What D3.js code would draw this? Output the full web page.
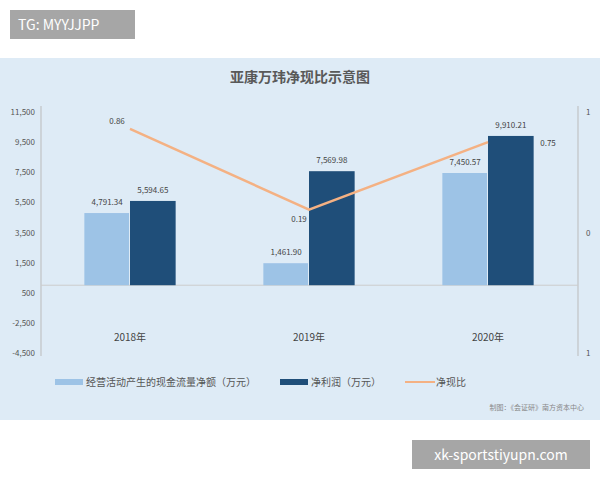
<!DOCTYPE html>
<html><head><meta charset="utf-8">
<script src="https://cdn.jsdelivr.net/npm/d3@7"></script>
<style>body{margin:0;background:#fff;font-family:"Noto Sans CJK SC","Noto Sans",sans-serif}</style>
</head><body>
<svg id="chart" width="600" height="480"></svg>
<script>
const years = ["2018年", "2019年", "2020年"];
const cashFlow = [4791.34, 1461.90, 7450.57];
const netProfit = [5594.65, 7569.98, 9910.21];
const ratio = [0.86, 0.19, 0.75];
const leftTicks = [11500, 9500, 7500, 5500, 3500, 1500, -500, -2500, -4500];
const leftLabels = ["11,500", "9,500", "7,500", "5,500", "3,500", "1,500", "500", "-2,500", "-4,500"];
const rightTicks = [1, 0, -1];
const rightLabels = ["1", "0", "1"];
const fmt = d3.format(",.2f");

const svg = d3.select("#chart");
svg.append("rect").attr("x", 0).attr("y", 58).attr("width", 600).attr("height", 362).attr("fill", "#deebf6");

svg.append("text").attr("x", 300).attr("y", 82).attr("text-anchor", "middle")
  .attr("font-size", 14).attr("font-weight", "bold").attr("fill", "#595959").text("亚康万玮净现比示意图");

const y = d3.scaleLinear([-4500, 11500], [353, 112]);
const y2 = d3.scaleLinear([-1, 1], [353, 112]);
const x = d3.scaleBand(years, [40.5, 577.5]).paddingInner(0.49).paddingOuter(0.245);
const xs = d3.scaleBand(["cf", "np"], [0, x.bandwidth()]);

svg.append("line").attr("x1", 41).attr("x2", 41).attr("y1", 106).attr("y2", 356).attr("stroke", "#bbb");
svg.append("line").attr("x1", 578).attr("x2", 578).attr("y1", 106).attr("y2", 356).attr("stroke", "#bbb");
svg.append("line").attr("x1", 41).attr("x2", 578).attr("y1", y(0)).attr("y2", y(0)).attr("stroke", "#ccc");

svg.selectAll("text.lt").data(leftTicks).join("text").attr("class", "lt")
  .attr("x", 35).attr("y", d => y(d) + 3).attr("text-anchor", "end")
  .attr("font-size", 8).attr("fill", "#555").text((d, i) => leftLabels[i]);
svg.selectAll("text.rt").data(rightTicks).join("text").attr("class", "rt")
  .attr("x", 586).attr("y", d => y2(d) + 3)
  .attr("font-size", 8).attr("fill", "#555").text((d, i) => rightLabels[i]);

const g = svg.selectAll("g.yr").data(years).join("g").attr("class", "yr")
  .attr("transform", d => `translate(${x(d)},0)`);
g.append("rect").attr("x", xs("cf")).attr("width", xs.bandwidth() - 1)
  .attr("y", (d, i) => y(cashFlow[i])).attr("height", (d, i) => y(0) - y(cashFlow[i])).attr("fill", "#9dc3e6");
g.append("rect").attr("x", xs("np")).attr("width", xs.bandwidth())
  .attr("y", (d, i) => y(netProfit[i])).attr("height", (d, i) => y(0) - y(netProfit[i])).attr("fill", "#1f4e79");
g.append("text").attr("x", xs("cf") + xs.bandwidth() / 2).attr("y", (d, i) => y(cashFlow[i]) - 8)
  .attr("text-anchor", "middle").attr("font-size", 8).attr("fill", "#444").text((d, i) => fmt(cashFlow[i]));
g.append("text").attr("x", xs("np") + xs.bandwidth() / 2).attr("y", (d, i) => y(netProfit[i]) - 8)
  .attr("text-anchor", "middle").attr("font-size", 8).attr("fill", "#444").text((d, i) => fmt(netProfit[i]));
g.append("text").attr("x", x.bandwidth() / 2).attr("y", 341).attr("text-anchor", "middle")
  .attr("font-size", 10).attr("fill", "#444").text(d => d);

const cx = d => x(d) + x.bandwidth() / 2;
svg.append("path").datum(ratio)
  .attr("d", d3.line().x((d, i) => cx(years[i])).y(d => y2(d)))
  .attr("fill", "none").attr("stroke", "#f4b183").attr("stroke-width", 2.5);
const rOff = [[-13, -5], [-10, 12], [60, 4]];
svg.selectAll("text.rl").data(ratio).join("text").attr("class", "rl")
  .attr("x", (d, i) => cx(years[i]) + rOff[i][0]).attr("y", (d, i) => y2(d) + rOff[i][1])
  .attr("text-anchor", "middle").attr("font-size", 8).attr("fill", "#444").text(d => d);

const lg = svg.append("g").attr("font-size", 10).attr("fill", "#555");
lg.append("rect").attr("x", 55).attr("y", 379).attr("width", 28).attr("height", 6).attr("fill", "#9dc3e6");
lg.append("text").attr("x", 86).attr("y", 386).text("经营活动产生的现金流量净额（万元）");
lg.append("rect").attr("x", 280).attr("y", 379).attr("width", 28).attr("height", 6).attr("fill", "#1f4e79");
lg.append("text").attr("x", 311).attr("y", 386).text("净利润（万元）");
lg.append("line").attr("x1", 405).attr("x2", 435).attr("y1", 382).attr("y2", 382).attr("stroke", "#f4b183").attr("stroke-width", 2);
lg.append("text").attr("x", 436).attr("y", 386).text("净现比");
svg.append("text").attr("x", 584).attr("y", 410).attr("text-anchor", "end")
  .attr("font-size", 7).attr("fill", "#888").text("制图：《会证研》南方资本中心");

svg.append("rect").attr("x", 10).attr("y", 10).attr("width", 125).attr("height", 29).attr("fill", "#a6a6a6");
svg.append("text").attr("x", 18).attr("y", 30).attr("font-size", 14).attr("fill", "#fff").text("TG: MYYJJPP");
svg.append("rect").attr("x", 412).attr("y", 440).attr("width", 178).attr("height", 29).attr("fill", "#a6a6a6");
svg.append("text").attr("x", 501).attr("y", 460).attr("text-anchor", "middle").attr("font-size", 14).attr("fill", "#fff").text("xk-sportstiyupn.com");
</script>
</body></html>
